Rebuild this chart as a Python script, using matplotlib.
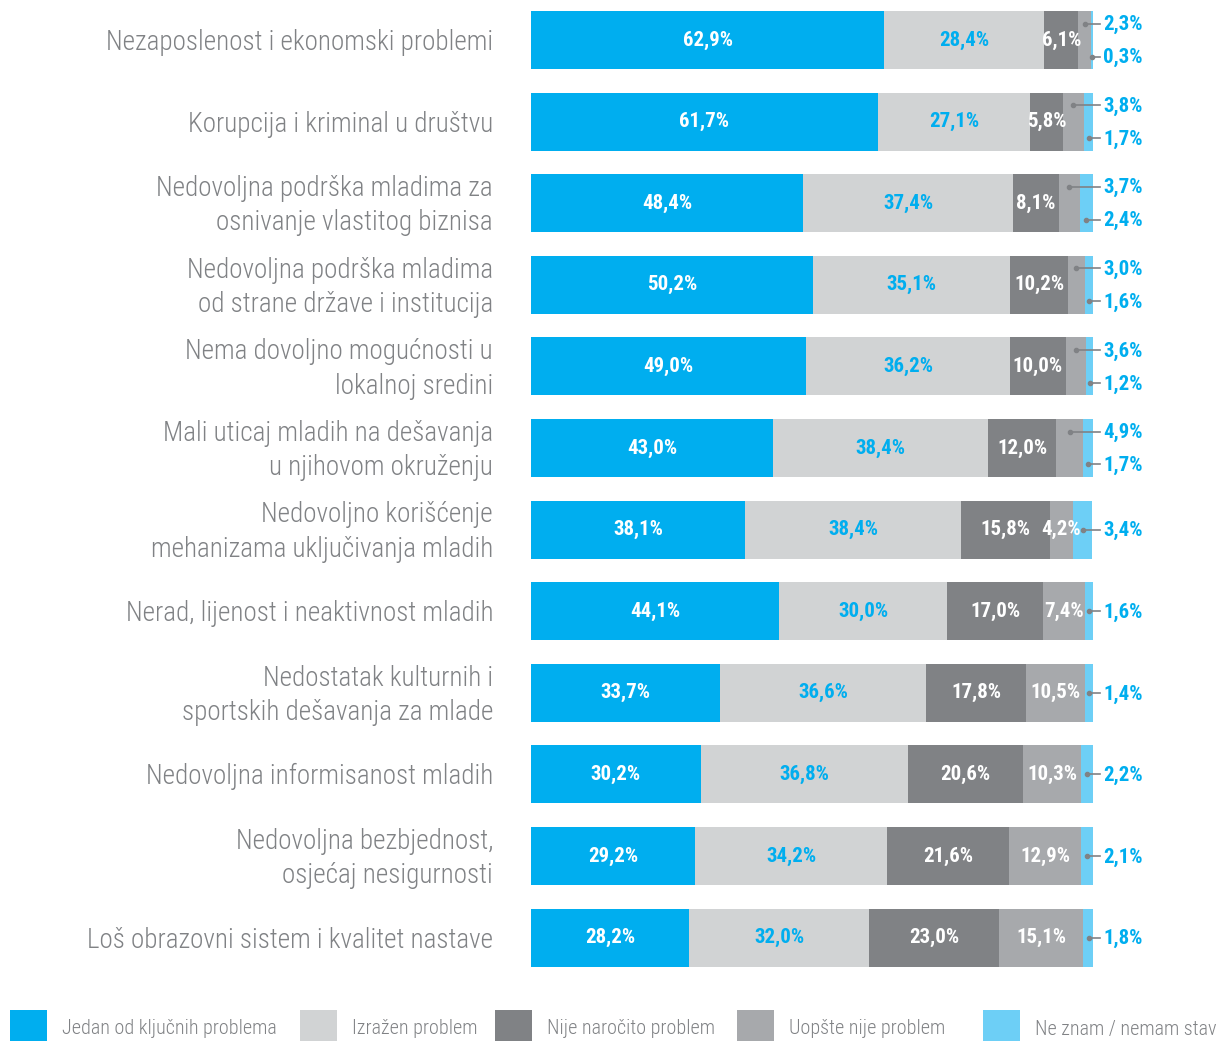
import matplotlib
matplotlib.use("Agg")
import matplotlib.pyplot as plt
from matplotlib.patches import Rectangle
from matplotlib import font_manager

# condensed family, first one that is installed
names = {f.name for f in font_manager.fontManager.ttflist}
cond = [f for f in ['Roboto Condensed', 'Archivo Narrow', 'Sofia Sans Condensed', 'Saira SemiCondensed']
        if f in names]
plt.rcParams['font.family'] = cond[:1] + ['DejaVu Sans']

categories = [
    "Nezaposlenost i ekonomski problemi",
    "Korupcija i kriminal u društvu",
    "Nedovoljna podrška mladima za\nosnivanje vlastitog biznisa",
    "Nedovoljna podrška mladima\nod strane države i institucija",
    "Nema dovoljno mogućnosti u\nlokalnoj sredini",
    "Mali uticaj mladih na dešavanja\nu njihovom okruženju",
    "Nedovoljno korišćenje\nmehanizama uključivanja mladih",
    "Nerad, lijenost i neaktivnost mladih",
    "Nedostatak kulturnih i\nsportskih dešavanja za mlade",
    "Nedovoljna informisanost mladih",
    "Nedovoljna bezbjednost,\nosjećaj nesigurnosti",
    "Loš obrazovni sistem i kvalitet nastave",
]
kljucni = [62.9, 61.7, 48.4, 50.2, 49.0, 43.0, 38.1, 44.1, 33.7, 30.2, 29.2, 28.2]
izrazen = [28.4, 27.1, 37.4, 35.1, 36.2, 38.4, 38.4, 30.0, 36.6, 36.8, 34.2, 32.0]
nije_narocito = [6.1, 5.8, 8.1, 10.2, 10.0, 12.0, 15.8, 17.0, 17.8, 20.6, 21.6, 23.0]
uopste = [2.3, 3.8, 3.7, 3.0, 3.6, 4.9, 4.2, 7.4, 10.5, 10.3, 12.9, 15.1]
ne_znam = [0.3, 1.7, 2.4, 1.6, 1.2, 1.7, 3.4, 1.6, 1.4, 2.2, 2.1, 1.8]
series_names = ["Jedan od ključnih problema", "Izražen problem", "Nije naročito problem",
                "Uopšte nije problem", "Ne znam / nemam stav"]

colors = ['#00aeef', '#d1d3d4', '#808285', '#a7a9ac', '#6dcff6']
label_colors = ['white', '#00aeef', 'white', 'white', 'white']
text_gray = '#808285'
line_gray = '#808285'

W, H = 1223, 1041
fig = plt.figure(figsize=(W / 100, H / 100), dpi=100)
row_px = 81.6
top_px, bot_px = 0, 980
ax = fig.add_axes([531 / W, 1 - bot_px / H, (1093 - 531) / W, (bot_px - top_px) / H])
ax.set_xlim(0, 100)
ax.set_ylim((bot_px - 40) / row_px, (top_px - 40) / row_px)
ax.axis('off')

data = [kljucni, izrazen, nije_narocito, uopste, ne_znam]
n = len(categories)
lefts = [0.0] * n
for s, vals in enumerate(data):
    ax.barh(range(n), vals, left=lefts, height=58 / row_px, color=colors[s], linewidth=0)
    lefts = [l + v for l, v in zip(lefts, vals)]

val_font = dict(fontsize=15, fontweight='bold')
off = 16.5 / row_px  # vertical offset of the outside labels
xline_end = (1100 - 531) / 562 * 100
xtext = (1103 - 531) / 562 * 100


def pct(v):
    return f"{v:.1f}%".replace('.', ',')


def leader(xd, y, v):
    ax.plot([xd, xline_end], [y, y], color=line_gray, lw=1.2, clip_on=False)
    ax.plot([xd], [y], 'o', color=line_gray, ms=3, clip_on=False)
    ax.text(xtext, y + 0.015, pct(v), ha='left', va='center', color='#00aeef', clip_on=False, **val_font)


for i in range(n):
    row = [d[i] for d in data]
    starts = [sum(row[:k]) for k in range(5)]
    two_outside = row[3] < 5 and row[4] < 3
    inside = 3 if two_outside else 4
    for k in range(inside):
        ax.text(starts[k] + row[k] / 2, i, pct(row[k]),
                ha='center', va='center', color=label_colors[k], **val_font)
    if two_outside:
        leader(starts[3] + row[3] / 2, i - off, row[3])
        leader(starts[4] + row[4] / 2, i + off, row[4])
    else:
        leader(starts[4] + row[4] / 2, i, row[4])
    # category label
    ax.text((493 - 531) / 562 * 100, i + 0.03, categories[i], ha='right', va='center',
            color=text_gray, fontsize=19.5, fontweight='light', linespacing=1.35, clip_on=False)

# legend along the bottom
leg_x = [10, 300, 495, 737, 983]
for x0, c, name in zip(leg_x, colors, series_names):
    fig.add_artist(Rectangle((x0 / W, 1 - 1041 / H), 37 / W, 31 / H,
                             transform=fig.transFigure, color=c, lw=0))
    fig.text((x0 + 52) / W, 1 - 1029 / H, name, ha='left', va='center',
             color=text_gray, fontsize=14.5, fontweight='light')

fig.savefig("out.png", dpi=100)
